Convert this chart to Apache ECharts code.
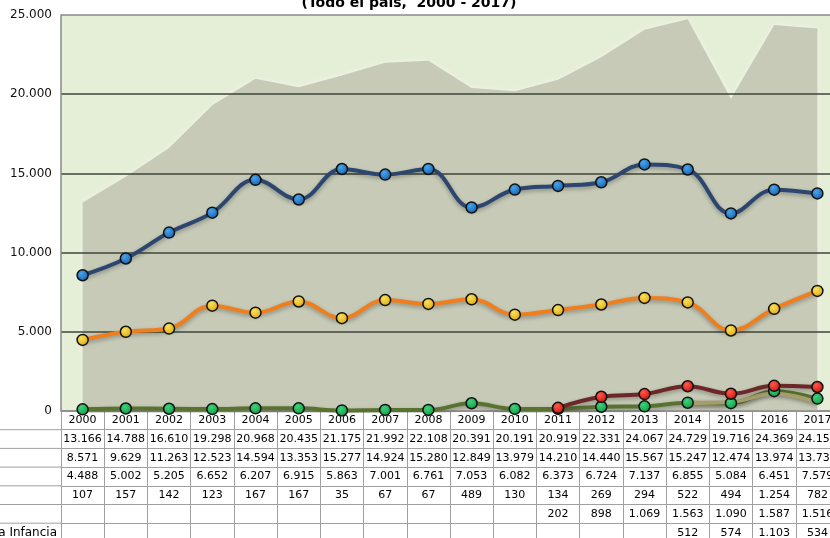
<!DOCTYPE html>
<html>
<head>
<meta charset="utf-8">
<script src="https://cdn.jsdelivr.net/npm/echarts@6/dist/echarts.min.js"></script>
<style>
  html, body { margin: 0; padding: 0; background: #fff; }
  #main { width: 830px; height: 538px; }
</style>
</head>
<body>
<div id="main"></div>
<script>
// datos por año
var years = ['2000', '2001', '2002', '2003', '2004', '2005', '2006', '2007', '2008',
  '2009', '2010', '2011', '2012', '2013', '2014', '2015', '2016', '2017']
var total = [13166, 14788, 16610, 19298, 20968, 20435, 21175, 21992, 22108,
  20391, 20191, 20919, 22331, 24067, 24729, 19716, 24369, 24152]
var serieAzul = [8571, 9629, 11263, 12523, 14594, 13353, 15277, 14924, 15280,
  12849, 13979, 14210, 14440, 15567, 15247, 12474, 13974, 13734]
var serieNaranja = [4488, 5002, 5205, 6652, 6207, 6915, 5863, 7001, 6761,
  7053, 6082, 6373, 6724, 7137, 6855, 5084, 6451, 7579]
var serieVerde = [107, 157, 142, 123, 167, 167, 35, 67, 67,
  489, 130, 134, 269, 294, 522, 494, 1254, 782]
var serieRoja = [null, null, null, null, null, null, null, null, null,
  null, null, 202, 898, 1069, 1563, 1090, 1587, 1516]
var primeraInfancia = [null, null, null, null, null, null, null, null, null,
  null, null, null, null, null, 512, 574, 1103, 534]
var yTicks = [0, 5000, 10000, 15000, 20000, 25000]

var tableRows = [total, serieAzul, serieNaranja, serieVerde, serieRoja, primeraInfancia]
var rowH = 18.7
var font = 'DejaVu Sans, Verdana, sans-serif'

// separador de miles con punto
function fmt (n) {
  if (n === null || n === undefined) return ''
  return String(n).replace(/\B(?=(\d{3})+(?!\d))/g, '.')
}

function marker (light, base) {
  return {
    type: 'radial', x: 0.4, y: 0.35, r: 0.7,
    colorStops: [{ offset: 0, color: light }, { offset: 1, color: base }]
  }
}

function lineSerie (data, lineColor, light, base, withSymbol) {
  return {
    type: 'line',
    data: data,
    smooth: 0.4,
    z: 3,
    symbol: withSymbol ? 'circle' : 'none',
    symbolSize: 11,
    showSymbol: withSymbol,
    lineStyle: {
      color: lineColor,
      width: 4,
      shadowColor: 'rgba(0,0,0,0.3)',
      shadowBlur: 4,
      shadowOffsetY: 2
    },
    itemStyle: {
      color: marker(light, base),
      borderColor: '#111',
      borderWidth: 1.5
    },
    emphasis: { disabled: true }
  }
}

// ejes de la tabla (una fila por serie)
var xAxes = [{
  type: 'category',
  data: years,
  position: 'bottom',
  boundaryGap: true,
  axisLine: { lineStyle: { color: '#8a8a8a', width: 1.5 } },
  axisTick: { show: true, length: rowH, lineStyle: { color: '#a0a0a0' } },
  axisLabel: { interval: 0, margin: 4, fontSize: 11, color: '#000', fontFamily: font }
}]
tableRows.forEach(function (row, k) {
  xAxes.push({
    type: 'category',
    data: years,
    position: 'bottom',
    offset: rowH * (k + 1),
    boundaryGap: true,
    axisLine: { lineStyle: { color: '#a0a0a0', width: 1 } },
    axisTick: { show: true, length: rowH, lineStyle: { color: '#a0a0a0' } },
    axisLabel: {
      interval: 0, margin: 4, fontSize: 11, color: '#000', fontFamily: font,
      formatter: function (v, i) { return fmt(row[i]) }
    }
  })
})

// líneas de la tabla a la izquierda del gráfico
var graphics = []
for (var k = 1; k <= 6; k++) {
  graphics.push({
    type: 'line',
    shape: { x1: 0, y1: 411 + rowH * k, x2: 61, y2: 411 + rowH * k },
    style: { stroke: '#a0a0a0', lineWidth: 1 }
  })
}
graphics.push({
  type: 'text',
  x: 57,
  y: 411 + rowH * 6 + 10,
  style: {
    text: 'Primera Infancia',
    fill: '#000',
    font: '12px ' + font,
    textAlign: 'right',
    textVerticalAlign: 'middle'
  }
})

var chart = echarts.init(document.getElementById('main'))
var option = {
  animation: false,
  backgroundColor: '#fff',
  title: {
    text: '(Todo el país,  2000 - 2017)',
    left: 404,
    textAlign: 'center',
    top: -9,
    textStyle: { fontSize: 14, fontWeight: 'bold', color: '#000', fontFamily: font }
  },
  grid: {
    left: 61,
    top: 15,
    width: 778,
    height: 396,
    show: true,
    backgroundColor: '#e5eed7',
    borderWidth: 0,
    outerBoundsMode: 'none'
  },
  xAxis: xAxes,
  yAxis: {
    type: 'value',
    min: yTicks[0],
    max: yTicks[yTicks.length - 1],
    interval: 5000,
    z: 2.5,
    axisLine: { show: true, lineStyle: { color: '#8a8a8a', width: 1.5 } },
    axisTick: { show: false },
    axisLabel: {
      margin: 9, fontSize: 12, color: '#111', fontFamily: font,
      formatter: function (v) { return fmt(v) }
    },
    splitLine: {
      lineStyle: {
        color: ['#8a8a8a', '#3e4438', '#3e4438', '#3e4438', '#3e4438', '#8a8a8a'],
        width: 1.5
      }
    }
  },
  graphic: graphics,
  series: [
    {
      type: 'line',
      data: total,
      z: 1,
      symbol: 'none',
      lineStyle: { width: 0 },
      areaStyle: {
        color: '#c6cab7',
        opacity: 1,
        shadowColor: 'rgba(255,255,255,0.5)',
        shadowBlur: 6
      },
      emphasis: { disabled: true }
    },
    lineSerie(serieAzul, '#2c4670', '#4aa3ea', '#0f5fae', true),
    lineSerie(serieNaranja, '#ef7f1e', '#fbe05a', '#d9a60c', true),
    lineSerie(serieVerde, '#5a7230', '#3fd27a', '#0c9a45', true),
    lineSerie(primeraInfancia, '#a59e6a', '#fff', '#a59e6a', false),
    lineSerie(serieRoja, '#6c2727', '#ff5a4a', '#c80d0d', true)
  ]
}
chart.setOption(option)
</script>
</body>
</html>
